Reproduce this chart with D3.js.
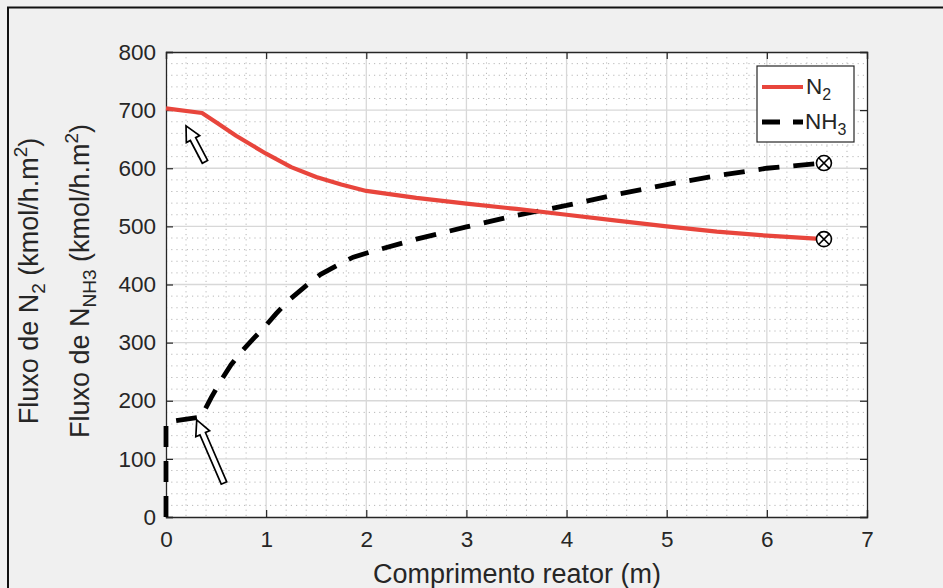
<!DOCTYPE html>
<html>
<head>
<meta charset="utf-8">
<script src="https://cdn.jsdelivr.net/npm/d3@7"></script>
<style>
  html,body{margin:0;padding:0;background:#f0f0f0;}
  svg{display:block;}
  text{font-family:"Liberation Sans",Arial,Helvetica,sans-serif;fill:#262626;}
</style>
</head>
<body>
<svg id="chart" width="943" height="588"></svg>
<script>
// ---- data ----
const n2X   = [0, 0.36, 0.5, 0.7, 1.0, 1.25, 1.5, 1.75, 2.0, 2.5, 3.0, 3.5, 4.0, 4.5, 5.0, 5.5, 6.0, 6.57];
const n2Y   = [703, 695, 679, 656, 625, 602, 585, 572, 561, 549, 539, 530, 520, 510, 500, 491, 484, 478];
const nh3X  = [0, 0, 0.35, 0.45, 0.55, 0.65, 0.75, 0.88, 1.0, 1.1, 1.22, 1.4, 1.54, 1.72, 1.87, 2.04, 2.5, 3.0, 3.5, 4.0, 4.5, 5.0, 5.5, 6.0, 6.57];
const nh3Y  = [0, 163, 172, 205, 235, 262, 284, 308, 330, 350, 372, 398, 417, 434, 447, 456, 478, 499, 519, 536, 555, 572, 587, 600, 609];
const xTicks = [0, 1, 2, 3, 4, 5, 6, 7];
const yTicks = [0, 100, 200, 300, 400, 500, 600, 700, 800];
const endMarkers = [[6.57, 609], [6.57, 478]];
const arrows = [
  {from: [0.389, 611], to: [0.2, 673]},
  {from: [0.579, 58.5], to: [0.307, 167]}
];

const W = 943, H = 588;
const L = 166, R = 867, T = 52, B = 517;
const svg = d3.select("#chart");

// figure background + frame (top & left edge visible)
svg.append("rect").attr("x",0).attr("y",0).attr("width",W).attr("height",H).attr("fill","#f0f0f0");
svg.append("path").attr("d",`M8,${H} L8,7.5 L${W},7.5`).attr("fill","none").attr("stroke","#111").attr("stroke-width",2);

const x = d3.scaleLinear().domain([0,7]).range([L,R]);
const y = d3.scaleLinear().domain([0,800]).range([B,T]);

// plot area
svg.append("rect").attr("x",L).attr("y",T).attr("width",R-L).attr("height",B-T).attr("fill","#fff");

const g = svg.append("g");
// minor grid
const minorX = d3.range(0, 7.0001, 0.2).filter(v => Math.abs(v - Math.round(v)) > 1e-6);
const minorY = d3.range(0, 800.0001, 20).filter(v => v % 100 !== 0);
g.selectAll(".mgx").data(minorX).join("line")
  .attr("x1",d=>x(d)).attr("x2",d=>x(d)).attr("y1",T).attr("y2",B)
  .attr("stroke","#b8b8b8").attr("stroke-width",1).attr("stroke-dasharray","1.2,4");
g.selectAll(".mgy").data(minorY).join("line")
  .attr("y1",d=>y(d)).attr("y2",d=>y(d)).attr("x1",L).attr("x2",R)
  .attr("stroke","#b8b8b8").attr("stroke-width",1).attr("stroke-dasharray","1.2,4");
// major grid
g.selectAll(".gx").data(xTicks.slice(1,-1)).join("line")
  .attr("x1",d=>x(d)).attr("x2",d=>x(d)).attr("y1",T).attr("y2",B)
  .attr("stroke","#d8d8d8").attr("stroke-width",1.3);
g.selectAll(".gy").data(yTicks.slice(1,-1)).join("line")
  .attr("y1",d=>y(d)).attr("y2",d=>y(d)).attr("x1",L).attr("x2",R)
  .attr("stroke","#d8d8d8").attr("stroke-width",1.3);

// axes (ticks inside)
const axB = d3.axisBottom(x).tickValues(xTicks).tickSize(-7).tickPadding(14).tickFormat(d3.format("d"));
const axL = d3.axisLeft(y).tickValues(yTicks).tickSize(-7).tickPadding(10).tickFormat(d3.format("d"));
const axT = d3.axisTop(x).tickValues(xTicks).tickSize(-7).tickFormat("");
const axR = d3.axisRight(y).tickValues(yTicks).tickSize(-7).tickFormat("");
function styleAxis(sel){
  sel.selectAll("path").attr("stroke","#262626").attr("stroke-width",1.3);
  sel.selectAll("line").attr("stroke","#262626").attr("stroke-width",1.2);
  sel.selectAll("text").attr("font-size",22.5).attr("fill","#262626")
     .style("font-family",'"Liberation Sans",Arial,sans-serif');
}
svg.append("g").attr("transform",`translate(0,${B})`).call(axB).call(styleAxis);
svg.append("g").attr("transform",`translate(${L},0)`).call(axL).call(styleAxis);
svg.append("g").attr("transform",`translate(0,${T})`).call(axT).call(styleAxis);
svg.append("g").attr("transform",`translate(${R},0)`).call(axR).call(styleAxis);

// lines
const line = d3.line().x(d=>x(d[0])).y(d=>y(d[1]));
const n2 = n2X.map((v,i)=>[v,n2Y[i]]);
const nh3 = nh3X.map((v,i)=>[v,nh3Y[i]]);
svg.append("path").datum(nh3).attr("d",line).attr("fill","none")
  .attr("stroke","#000").attr("stroke-width",4.8).attr("stroke-dasharray","21,14");
svg.append("path").datum(n2).attr("d",line).attr("fill","none")
  .attr("stroke","#e8453c").attr("stroke-width",4.2).attr("stroke-linejoin","round");

// end markers (circle with x)
endMarkers.forEach(([mx,my])=>{
  const cx = x(mx), cy = y(my), r = 7.5;
  svg.append("circle").attr("cx",cx).attr("cy",cy).attr("r",r)
    .attr("fill","#fff").attr("stroke","#000").attr("stroke-width",1.6);
  const k = r*0.7071;
  svg.append("path").attr("d",`M${cx-k},${cy-k}L${cx+k},${cy+k}M${cx-k},${cy+k}L${cx+k},${cy-k}`)
    .attr("stroke","#000").attr("stroke-width",1.6);
});

// hollow block arrows
arrows.forEach(a=>{
  const x0=x(a.from[0]), y0=y(a.from[1]), x1=x(a.to[0]), y1=y(a.to[1]);
  const dx=x1-x0, dy=y1-y0, len=Math.hypot(dx,dy);
  const ux=dx/len, uy=dy/len, nx=-uy, ny=ux;
  const sw=3, hw=7.5, hl=15;
  const bx=x1-ux*hl, by=y1-uy*hl;
  const pts=[
    [x0+nx*sw,y0+ny*sw],[bx+nx*sw,by+ny*sw],[bx+nx*hw,by+ny*hw],[x1,y1],
    [bx-nx*hw,by-ny*hw],[bx-nx*sw,by-ny*sw],[x0-nx*sw,y0-ny*sw]
  ];
  svg.append("polygon").attr("points",pts.map(p=>p.join(",")).join(" "))
    .attr("fill","#fff").attr("stroke","#000").attr("stroke-width",1.7).attr("stroke-linejoin","miter");
});

// legend
const lg = svg.append("g");
lg.append("rect").attr("x",757).attr("y",66).attr("width",97).attr("height",76)
  .attr("fill","#fff").attr("stroke","#262626").attr("stroke-width",1.2);
lg.append("line").attr("x1",762).attr("x2",803).attr("y1",87).attr("y2",87)
  .attr("stroke","#e8453c").attr("stroke-width",4.2);
lg.append("line").attr("x1",762).attr("x2",803).attr("y1",122).attr("y2",122)
  .attr("stroke","#000").attr("stroke-width",4.8).attr("stroke-dasharray","18,13");
const t1 = lg.append("text").attr("x",806).attr("y",94).attr("font-size",22.5);
t1.append("tspan").text("N");
t1.append("tspan").attr("font-size",16).attr("dy",6).text("2");
const t2 = lg.append("text").attr("x",805).attr("y",129).attr("font-size",22.5);
t2.append("tspan").text("NH");
t2.append("tspan").attr("font-size",16).attr("dy",6).text("3");

// axis labels
svg.append("text").attr("x",517).attr("y",583).attr("text-anchor","middle")
  .attr("font-size",27).text("Comprimento reator (m)");

const yl1 = svg.append("text").attr("transform","translate(38,281) rotate(-90)")
  .attr("text-anchor","middle").attr("font-size",27);
yl1.append("tspan").text("Fluxo de N");
yl1.append("tspan").attr("font-size",19).attr("dy",7).text("2");
yl1.append("tspan").attr("dy",-7).text(" (kmol/h.m");
yl1.append("tspan").attr("font-size",19).attr("dy",-11).text("2");
yl1.append("tspan").attr("dy",11).text(")");

const yl2 = svg.append("text").attr("transform","translate(89,281) rotate(-90)")
  .attr("text-anchor","middle").attr("font-size",27);
yl2.append("tspan").text("Fluxo de N");
yl2.append("tspan").attr("font-size",19).attr("dy",7).text("NH3");
yl2.append("tspan").attr("dy",-7).text(" (kmol/h.m");
yl2.append("tspan").attr("font-size",19).attr("dy",-11).text("2");
yl2.append("tspan").attr("dy",11).text(")");
</script>
</body>
</html>
